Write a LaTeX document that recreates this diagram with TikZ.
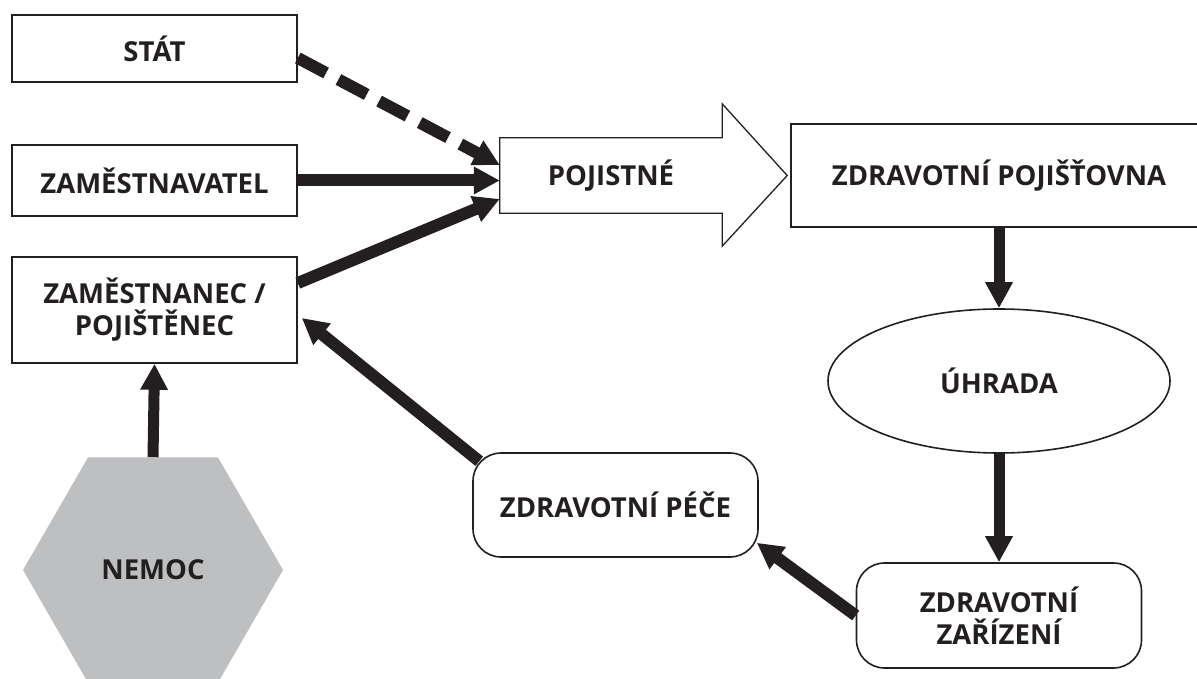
\documentclass[tikz,border=0pt]{standalone}
\usepackage{fontspec}
\setmainfont{Open Sans}
\usetikzlibrary{shapes.geometric,arrows.meta,calc}
\definecolor{hexgray}{RGB}{190,191,193}
\definecolor{ink}{RGB}{35,31,32}
\begin{document}
\begin{tikzpicture}[x=1pt,y=-1pt,
  lbl/.style={font=\fontsize{27.5}{32}\selectfont\bfseries, text=ink, align=center, inner sep=0pt},
  box/.style={lbl, draw=ink, line width=1.6pt, rectangle},
  rbox/.style={box, rounded corners=28pt},
  conn/.style={line width=12pt, draw=ink, -{Triangle[length=26pt,width=26pt]}},
  vconn/.style={conn, line width=11pt},
  dconn/.style={conn, dash pattern=on 32pt off 14pt}]
\useasboundingbox (0,0) rectangle (1197,679);
\clip (0,0) rectangle (1197,679);
% nodes
\node[box, minimum width=285pt, minimum height=67pt] (stat) at (154.5,48.5) {STÁT};
\node[box, minimum width=285pt, minimum height=71pt] (zamv) at (154.5,180.5) {ZAMĚSTNAVATEL};
\node[box, minimum width=285pt, minimum height=106pt] (zamn) at (154.5,310) {ZAMĚSTNANEC /\\POJIŠTĚNEC};
\node[lbl, minimum width=222pt, minimum height=75pt] (poj) at (611,175.5) {POJISTNÉ};
\draw[line width=1.3pt, draw=ink, line join=miter]
  (poj.north west) -- (poj.north east) -- ++(0,-34) -- ($(poj.east)+(65,0)$)
  -- ($(poj.south east)+(0,33)$) -- (poj.south east) -- (poj.south west) -- cycle;
\node[box, minimum width=416pt, minimum height=103pt] (zp) at (999,175.5) {ZDRAVOTNÍ POJIŠŤOVNA};
\node[box, ellipse, minimum width=342pt, minimum height=144pt] (uh) at (999,381) {ÚHRADA};
\node[rbox, minimum width=285pt, minimum height=104pt] (pece) at (615.5,505) {ZDRAVOTNÍ PÉČE};
\node[rbox, minimum width=285pt, minimum height=105pt] (zz) at (999,615.5) {ZDRAVOTNÍ\\ZAŘÍZENÍ};
\node[lbl, regular polygon, regular polygon sides=6, minimum size=260pt, fill=hexgray] (nemoc) at (153,570) {NEMOC};
% connectors
\draw[dconn] ($(stat.east)+(0,9.5)$) -- ($(poj.west)+(0,-10.5)$);
\draw[conn] (zamv.east) -- (zamv.east -| poj.west);
\draw[conn] ($(zamn.east)+(0,-27)$) -- ($(poj.west)+(0,23.5)$);
\draw[vconn] (nemoc.north) -- (zamn.south);
\draw[conn] ($(pece.north west)+(7,9)$) -- ($(zamn.east)+(4,8)$);
\draw[conn] (zz.west) -- ($(pece.south east)+(-2,-15)$);
\draw[vconn] (zp.south) -- (uh.north);
\draw[vconn] (uh.south) -- (zz.north);
\end{tikzpicture}
\end{document}
